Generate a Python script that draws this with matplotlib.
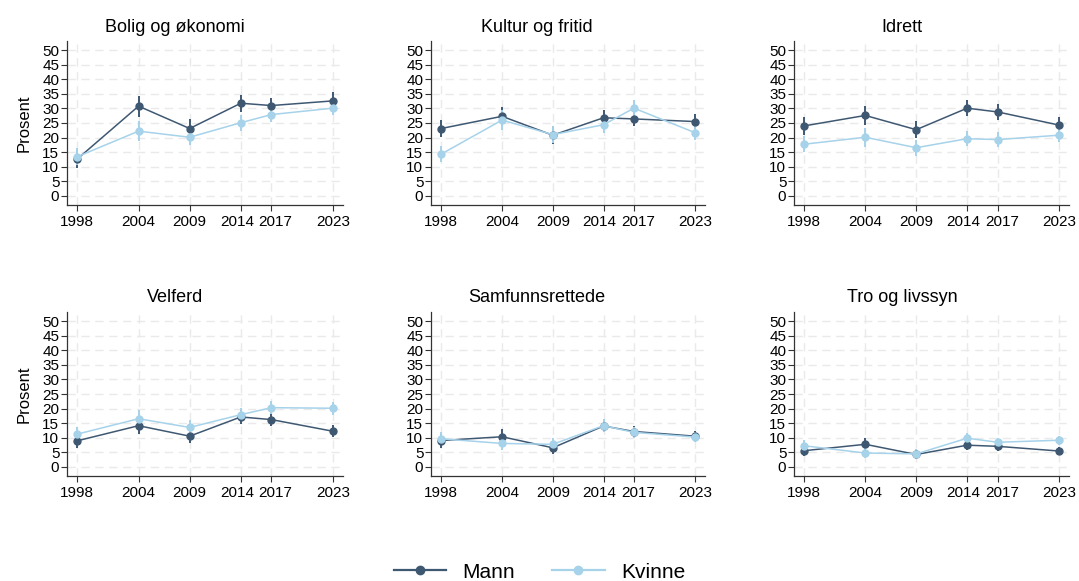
import matplotlib
matplotlib.use("Agg")
import matplotlib.pyplot as plt
from matplotlib.lines import Line2D
from matplotlib.transforms import ScaledTranslation
import numpy as np

plt.rcParams['font.family'] = ['Liberation Sans', 'DejaVu Sans']

years = [1998, 2004, 2009, 2014, 2017, 2023]
titles = ["Bolig og økonomi", "Kultur og fritid", "Idrett",
          "Velferd", "Samfunnsrettede", "Tro og livssyn"]

# prosent, menn
mann = [
    [12.6, 30.8, 23.1, 31.8, 31.0, 32.6],
    [23.1, 27.3, 20.8, 26.8, 26.4, 25.5],
    [24.0, 27.6, 22.7, 30.1, 28.8, 24.3],
    [8.9, 14.1, 10.5, 17.1, 16.2, 12.2],
    [9.0, 10.3, 6.5, 14.0, 12.1, 10.5],
    [5.5, 7.7, 4.2, 7.4, 7.0, 5.4],
]
# prosent, kvinner
kvinne = [
    [13.4, 22.2, 20.1, 25.1, 27.9, 30.1],
    [14.3, 26.0, 21.0, 24.4, 30.1, 21.7],
    [17.7, 20.1, 16.5, 19.6, 19.3, 20.8],
    [11.2, 16.5, 13.5, 17.9, 20.3, 20.1],
    [9.6, 8.0, 7.7, 14.1, 11.8, 10.2],
    [7.2, 4.7, 4.4, 9.8, 8.4, 9.1],
]
# halve konfidensintervall
mann_ci = [
    [3.0, 3.6, 3.3, 2.9, 2.7, 3.0],
    [3.0, 3.3, 3.0, 2.7, 2.6, 2.6],
    [3.0, 3.4, 3.0, 2.8, 2.7, 2.6],
    [2.4, 3.0, 2.3, 2.4, 2.2, 2.0],
    [2.4, 2.8, 2.0, 2.2, 2.0, 1.9],
    [1.8, 2.3, 1.6, 1.6, 1.5, 1.3],
]
kvinne_ci = [
    [3.0, 3.4, 2.7, 2.8, 2.7, 2.5],
    [2.8, 3.3, 2.8, 2.7, 2.8, 2.6],
    [2.8, 3.2, 2.7, 2.5, 2.5, 2.4],
    [2.4, 3.0, 2.4, 2.3, 2.2, 2.2],
    [2.3, 2.2, 2.2, 2.2, 1.9, 1.8],
    [1.9, 1.8, 1.6, 1.8, 1.6, 1.6],
]

c_mann = '#3f5872'
c_kvinne = '#a6d2ea'

fig = plt.figure(figsize=(10.79, 5.81), dpi=100)

W, H = 1079, 581
lefts = [67, 431, 794]
widths = [276, 274, 275]
tops = [41, 312]
title_x = [175, 537, 902]
title_y = [27, 297]
ah = 164

for i in range(6):
    r, c = divmod(i, 3)
    ax = fig.add_axes([lefts[c] / W, (H - tops[r] - ah) / H, widths[c] / W, ah / H])
    ax.errorbar(years, mann[i], yerr=mann_ci[i], color=c_mann, marker='o', ms=5,
                lw=1.1, elinewidth=1.4, capsize=0, zorder=3)
    ax.errorbar(years, kvinne[i], yerr=kvinne_ci[i], color=c_kvinne, marker='o', ms=5,
                lw=1.1, elinewidth=1.4, capsize=0, zorder=3)
    ax.set_xlim(1997, 2024)
    ax.set_ylim(-3.2, 53.2)
    ax.set_xticks(years)
    ax.set_yticks(range(0, 51, 5))
    ax.grid(True, color='#eaeaea', ls=(0, (6, 4)), lw=1)
    ax.set_axisbelow(True)
    for s in ['top', 'right']:
        ax.spines[s].set_visible(False)
    for s in ['left', 'bottom']:
        ax.spines[s].set_color('#333333')
        ax.spines[s].set_linewidth(0.9)
    ax.tick_params(labelsize=11, length=4, width=0.8, color='#333333', pad=1.5)
    ax.tick_params(axis='x', pad=3)
    # skyv 2014 og 2017 litt fra hverandre
    xl = ax.get_xticklabels()
    xl[3].set_transform(xl[3].get_transform() + ScaledTranslation(-4 / 100, 0, fig.dpi_scale_trans))
    xl[4].set_transform(xl[4].get_transform() + ScaledTranslation(4 / 100, 0, fig.dpi_scale_trans))
    if c == 0:
        ax.set_ylabel('Prosent', fontsize=12, labelpad=8)
    fig.text(title_x[c] / W, 1 - title_y[r] / H, titles[i], fontsize=13,
             ha='center', va='center')

handles = [Line2D([], [], color=c_mann, marker='o', ms=6, lw=1.6),
           Line2D([], [], color=c_kvinne, marker='o', ms=6, lw=1.6)]
fig.legend(handles, ['Mann', 'Kvinne'], loc='center', bbox_to_anchor=(0.5, 1 - 572 / H),
           ncol=2, frameon=False, fontsize=15, handlelength=2.5,
           columnspacing=1.8, handletextpad=0.8)

fig.savefig('out.png', dpi=100)
